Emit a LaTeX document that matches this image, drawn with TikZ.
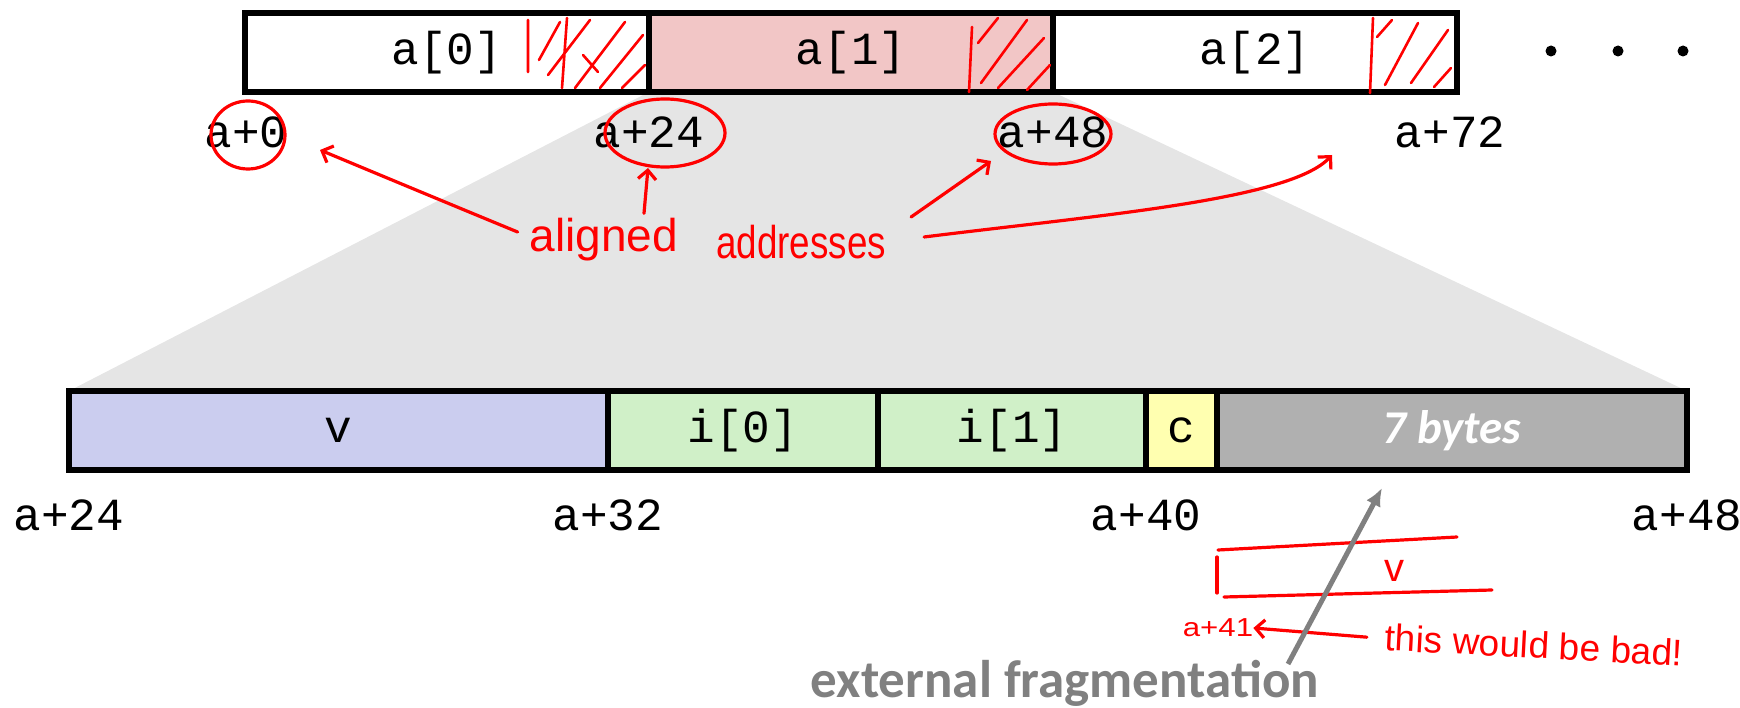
\documentclass[tikz,border=0pt]{standalone}
\usepackage{fontspec}
\usetikzlibrary{arrows.meta}
\newfontfamily\monof{Liberation Mono}
\newfontfamily\calf{Carlito}
\newfontfamily\handf{Liberation Sans}
\definecolor{fanbg}{HTML}{E5E5E5}
\definecolor{pinkc}{HTML}{F2C6C6}
\definecolor{lavc}{HTML}{CBCDEF}
\definecolor{greenc}{HTML}{D0F0C8}
\definecolor{yelc}{HTML}{FFFFB0}
\definecolor{padc}{HTML}{B0B0B0}
\definecolor{extc}{HTML}{808080}
\definecolor{inkc}{HTML}{FF0000}
\begin{document}
\begin{tikzpicture}[x=1pt,y=-1pt,
 cell/.style={draw=black,line width=6pt,minimum height=79pt,inner sep=0pt,font=\monof\fontsize{46}{46}\selectfont},
 addr/.style={inner sep=0pt,font=\monof\fontsize{46}{46}\selectfont},
 ink/.style={draw=inkc,line width=3.2pt,line cap=round,line join=round},
 hatch/.style={draw=inkc,line width=2.6pt,line cap=round},
 inkarrow/.style={ink,-{Straight Barb[length=9pt,width=18pt]}},
 hand/.style={text=inkc,inner sep=0pt,font=\handf\fontsize{46}{46}\selectfont}]
\useasboundingbox (0,0) rectangle (1740,708);
% fan
\fill[fanbg] (649,92) -- (1053,92) -- (1687,391) -- (69,391) -- cycle;
% top array
\node[cell,minimum width=404pt] (a0) at (447,52.5) {a[0]};
\node[cell,fill=pinkc,minimum width=404pt] (a1) at (851,52.5) {a[1]};
\node[cell,minimum width=404pt] (a2) at (1255,52.5) {a[2]};
\fill (1551,51) circle (5.5pt) (1618,51) circle (5.5pt) (1683,51) circle (5.5pt);
\node[addr] (l0) at (246,132) {a+0};
\node[addr] (l24) at (649,132) {a+24};
\node[addr] (l48) at (1053,132) {a+48};
\node[addr] (l72) at (1450,132) {a+72};
% bottom struct
\node[cell,fill=lavc,minimum width=539pt] (v) at (338.5,430.5) {v};
\node[cell,fill=greenc,minimum width=270pt] (i0) at (743,430.5) {i[0]};
\node[cell,fill=greenc,minimum width=268pt] (i1) at (1012,430.5) {i[1]};
\node[cell,fill=yelc,minimum width=71pt] (c) at (1181.5,430.5) {c};
\node[cell,fill=padc,minimum width=470pt,text=white,font=\calf\bfseries\itshape\fontsize{47}{47}\selectfont] (pad) at (1452,430.5) {7 bytes};
\node[addr] (b24) at (69,515) {a+24};
\node[addr] (b32) at (608,515) {a+32};
\node[addr] (b40) at (1146,515) {a+40};
\node[addr] (b48) at (1687,515) {a+48};
% hatching
\draw[hatch] (528,20) -- (528,72) (567,18) -- (562,88)
  (539,60) -- (560,22) (548,75) -- (590,20) (575,88) -- (625,22)
  (600,88) -- (643,35) (622,88) -- (645,65) (583,55) -- (598,72);
\draw[hatch] (972,27) -- (969,92)
  (978,43) -- (998,18) (981,83) -- (1027,20) (998,88) -- (1044,38) (1027,90) -- (1050,65);
\draw[hatch] (1373,18) -- (1370,93)
  (1377,37) -- (1392,20) (1385,85) -- (1418,23) (1411,83) -- (1448,30) (1434,87) -- (1451,68);
% circles
\draw[ink] (248,135) ellipse [x radius=37pt, y radius=34pt];
\draw[ink] (665,133) ellipse [x radius=60pt, y radius=34pt];
\draw[ink] (1053,134) ellipse [x radius=58pt, y radius=30pt];
% annotations
\node[hand] (aligned) at (604,240) {aligned};
\node[hand] (addresses) at (801,242) {\scalebox{0.8}[1]{addresses}};
\coordinate (t0) at (320,150);
\coordinate (t24) at (648,168);
\coordinate (t48) at (991,161);
\coordinate (t72) at (1332,155);
\draw[inkarrow] (aligned.west) ++(-12,-8) .. controls (440,200) and (380,175) .. (t0);
\draw[inkarrow] (aligned.north) ++(40,-5) -- (t24);
\draw[inkarrow] (addresses.east) ++(25,-25) -- (t48);
\draw[inkarrow] (addresses.east) ++(38,-5) .. controls (1100,215) and (1290,200) .. (t72);
% bad alignment sketch
\draw[ink] (1218,550) -- (1457,537);
\draw[ink] (1217,557) -- (1217,593);
\draw[ink] (1224,597) -- (1492,590);
\node[hand,font=\handf\fontsize{40}{40}\selectfont] (vv) at (1394,571) {v};
\node[hand,font=\handf\fontsize{26}{26}\selectfont] (a41) at (1218,628) {\scalebox{1.2}[1]{a+41}};
\node[hand,font=\handf\fontsize{37}{37}\selectfont,rotate=-3] (bad) at (1534,645) {this would be bad!};
\draw[inkarrow] (bad.west) ++(-18,0) -- (a41.east);
% external fragmentation
\node[inner sep=0pt,anchor=base,text=extc,font=\calf\bfseries\fontsize{53}{53}\selectfont] (ext) at (1065,697) {external fragmentation};
\coordinate (gtail) at (1288,664);
\coordinate (gtip) at (1382,488);
\draw[extc,line width=5pt,-{Latex[length=18pt,width=16pt]}] (gtail) -- (gtip);
\end{tikzpicture}
\end{document}
